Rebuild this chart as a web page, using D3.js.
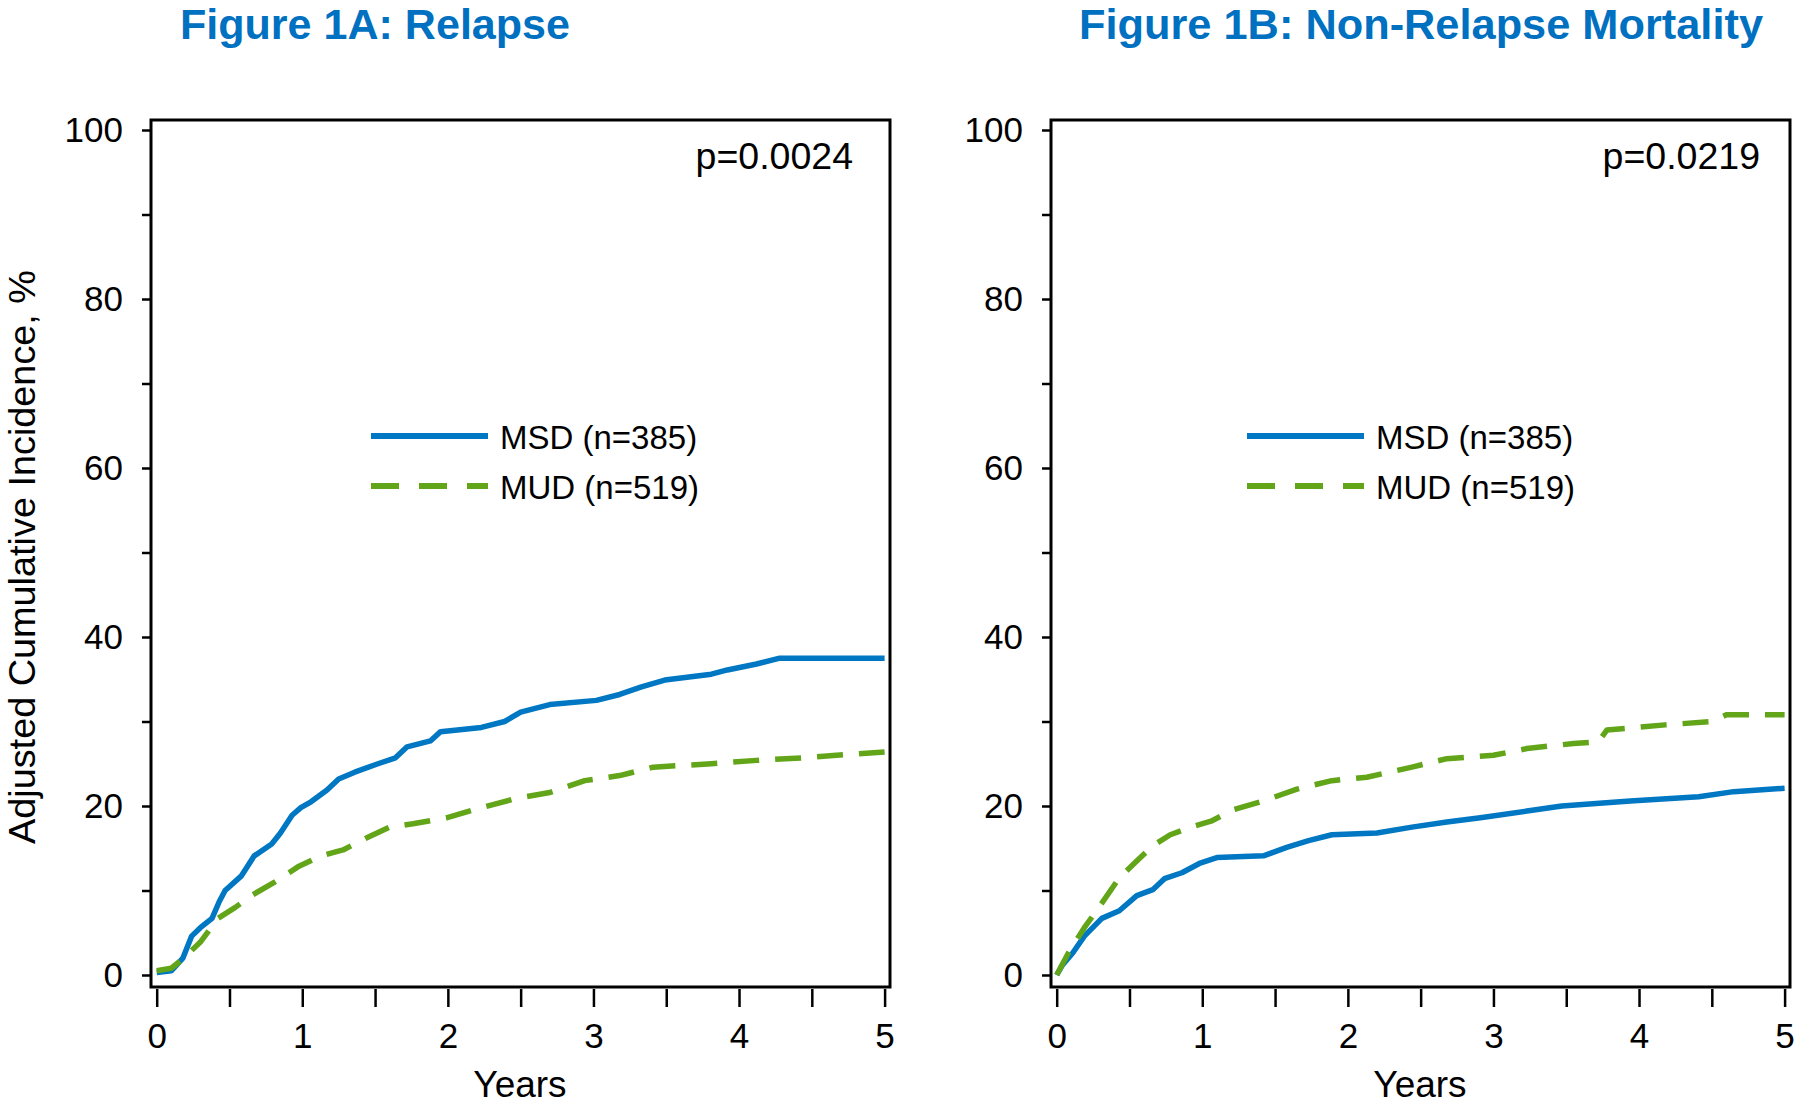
<!DOCTYPE html>
<html><head><meta charset="utf-8">
<script src="https://cdn.jsdelivr.net/npm/d3@7/dist/d3.min.js"></script>
<style>
html,body{margin:0;padding:0;background:#fff;}
text{font-family:"Liberation Sans",Arial,Helvetica,sans-serif;}
</style></head>
<body><svg id="chart" width="1800" height="1108"></svg>
<script>
// ---- data ----
const panelTitles = ["Figure 1A: Relapse", "Figure 1B: Non-Relapse Mortality"];
const pValues = ["p=0.0024", "p=0.0219"];
const seriesNames = ["MSD (n=385)", "MUD (n=519)"];
const xTickValues = [0,0.5,1,1.5,2,2.5,3,3.5,4,4.5,5];
const xTickLabels = ["0","1","2","3","4","5"];
const yTickValues = [0,10,20,30,40,50,60,70,80,90,100];
const yTickLabels = ["0","20","40","60","80","100"];
const xAxisTitle = "Years";
const yAxisTitle = "Adjusted Cumulative Incidence, %";

// Relapse (panel A) [years, %]
const relapseMSD = [[0,0.3],[0.1,0.5],[0.18,2],[0.24,4.6],[0.3,5.6],[0.38,6.7],[0.43,8.7],[0.47,10],[0.58,11.7],[0.67,14.1],[0.79,15.5],[0.85,16.8],[0.93,18.9],[0.99,19.8],[1.06,20.5],[1.17,21.9],[1.25,23.2],[1.36,24],[1.52,25],[1.64,25.7],[1.72,27],[1.88,27.7],[1.95,28.8],[2.23,29.3],[2.39,30],[2.5,31.1],[2.7,32],[3.02,32.5],[3.18,33.2],[3.33,34.1],[3.49,34.9],[3.81,35.6],[3.92,36.1],[4.12,36.8],[4.28,37.5],[5,37.5]];
const relapseMUD = [[0,0.5],[0.1,0.8],[0.18,1.9],[0.3,3.9],[0.42,6.7],[0.54,8],[0.65,9.4],[0.81,11],[0.97,12.8],[1.13,14.1],[1.28,14.8],[1.44,16.2],[1.6,17.5],[1.76,17.9],[1.99,18.6],[2.23,19.8],[2.47,20.9],[2.7,21.6],[2.94,23],[3.18,23.6],[3.41,24.6],[3.81,25],[4.12,25.4],[4.44,25.7],[4.75,26.1],[5,26.4]];
// Non-relapse mortality (panel B)
const nrmMSD = [[0,0],[0.04,1.2],[0.11,2.6],[0.19,4.6],[0.31,6.7],[0.43,7.6],[0.55,9.4],[0.66,10.1],[0.74,11.4],[0.86,12.1],[0.98,13.2],[1.1,13.9],[1.42,14.1],[1.58,15.1],[1.73,15.9],[1.89,16.6],[2.2,16.8],[2.44,17.5],[2.68,18.1],[2.91,18.6],[3.23,19.4],[3.47,20],[3.94,20.6],[4.41,21.1],[4.65,21.7],[5,22.1]];
const nrmMUD = [[0,0],[0.08,2.6],[0.19,5.6],[0.31,8.5],[0.43,11.5],[0.55,13.5],[0.66,15.3],[0.78,16.6],[0.94,17.6],[1.06,18.2],[1.22,19.6],[1.42,20.6],[1.65,22],[1.89,23],[2.13,23.4],[2.44,24.6],[2.68,25.6],[3.0,26],[3.23,26.8],[3.55,27.4],[3.72,27.6],[3.78,29],[4.18,29.6],[4.5,30],[4.6,30.8],[5,30.8]];

const panelSeries = [[relapseMSD, relapseMUD],[nrmMSD, nrmMUD]];

// ---- layout / style ----
const colors = ["#0077C2", "#62A518"];
const dashes = [null, "26,16"];
const svg = d3.select("#chart");
const panelOffset = [0, 900];
const frame = {l:151, r:890, t:120, b:987};
const titleX = [375, 1421];
const pX = [853, 1760];
const legendX = [371, 1247];

panelSeries.forEach((series, pi) => {
  const ox = panelOffset[pi];
  const g = svg.append("g").attr("transform", `translate(${ox},0)`);
  const x = d3.scaleLinear().domain([0,5]).range([156.7, 884.6]);
  const y = d3.scaleLinear().domain([0,100]).range([975, 130]);

  // title
  svg.append("text").attr("x", titleX[pi]).attr("y", 39).attr("text-anchor","middle")
    .attr("font-size", 42.5).attr("font-weight","bold").attr("fill","#0070C0")
    .attr("textLength", pi ? 684 : 390).attr("lengthAdjust","spacingAndGlyphs").text(panelTitles[pi]);

  // frame
  g.append("rect").attr("x", frame.l).attr("y", frame.t).attr("width", frame.r-frame.l).attr("height", frame.b-frame.t)
    .attr("fill","none").attr("stroke","#000").attr("stroke-width",3);

  // y axis
  const ya = g.append("g").attr("transform", `translate(${frame.l},0)`)
    .call(d3.axisLeft(y).tickValues(yTickValues).tickSize(9).tickPadding(19)
      .tickFormat(d => yTickLabels.includes(String(d)) ? String(d) : ""));
  ya.select(".domain").remove();
  ya.selectAll(".tick line").attr("stroke","#000").attr("stroke-width",2.5);
  ya.selectAll(".tick text").attr("font-size",35).attr("fill","#000").attr("font-family","Liberation Sans, Arial, sans-serif");

  // x axis
  const xa = g.append("g").attr("transform", `translate(0,${frame.b+2})`)
    .call(d3.axisBottom(x).tickValues(xTickValues).tickSize(18).tickPadding(16)
      .tickFormat(d => xTickLabels.includes(String(d)) ? String(d) : ""));
  xa.select(".domain").remove();
  xa.selectAll(".tick line").attr("stroke","#000").attr("stroke-width",2.5);
  xa.selectAll(".tick text").attr("font-size",35).attr("fill","#000").attr("font-family","Liberation Sans, Arial, sans-serif");

  // x title
  g.append("text").attr("x", 520).attr("y", 1097).attr("text-anchor","middle").attr("font-size",37).text(xAxisTitle);

  // p-value
  svg.append("text").attr("x", pX[pi]).attr("y", 169).attr("text-anchor","end").attr("font-size",37.5).text(pValues[pi]);

  // curves
  const line = d3.line().x(d => x(d[0])).y(d => y(d[1]));
  series.forEach((s, si) => {
    g.append("path").datum(s).attr("d", line).attr("fill","none")
      .attr("stroke", colors[si]).attr("stroke-width",5.5).attr("stroke-linejoin","round")
      .attr("stroke-dasharray", dashes[si]);
  });

  // legend
  seriesNames.forEach((name, si) => {
    const ly = 436 + si*50;
    svg.append("line").attr("x1", legendX[pi]).attr("x2", legendX[pi]+117).attr("y1", ly).attr("y2", ly)
      .attr("stroke", colors[si]).attr("stroke-width",6).attr("stroke-dasharray", si ? "28,20" : null);
    svg.append("text").attr("x", legendX[pi]+129).attr("y", ly+13).attr("font-size",33).text(name);
  });
});

// y axis title (panel A only)
svg.append("text").attr("transform","translate(35,557) rotate(-90)").attr("text-anchor","middle")
  .attr("font-size",37).attr("textLength",574).attr("lengthAdjust","spacingAndGlyphs").text(yAxisTitle);
</script></body></html>
